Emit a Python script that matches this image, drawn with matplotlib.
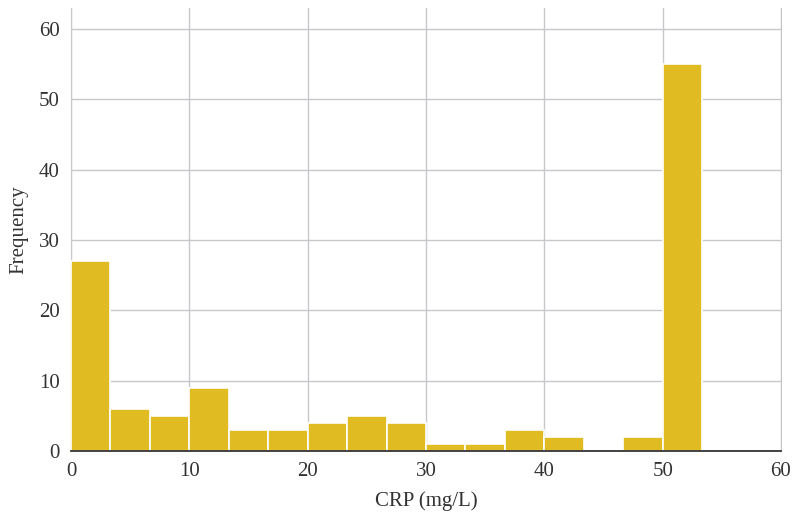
import numpy as np
import matplotlib
matplotlib.use("Agg")
import matplotlib.pyplot as plt

# CRP histogram: 16 bins of width 10/3 starting at 0
bin_width = 10 / 3
n_bins = 16
counts = [27, 6, 5, 9, 3, 3, 4, 5, 4, 1, 1, 3, 2, 0, 2, 55]
x_ticks = [0, 10, 20, 30, 40, 50, 60]
y_ticks = [0, 10, 20, 30, 40, 50, 60]

edges = np.arange(n_bins + 1) * bin_width

plt.rcParams["font.family"] = ["Liberation Serif", "DejaVu Serif"]

fig = plt.figure(figsize=(7.94, 5.15), dpi=100)
ax = fig.add_axes([0.0894, 0.1243, 0.8942, 0.8602])

ax.hist(edges[:-1], bins=edges, weights=counts, color="#E0BC22",
        edgecolor="white", linewidth=1.2, zorder=3)

ax.set_xlim(0, 60)
ax.set_ylim(0, 63)
ax.set_xticks(x_ticks)
ax.set_yticks(y_ticks)
ax.grid(True, color="#c8c8cc", linewidth=1.0, zorder=0)
ax.set_axisbelow(True)

ax.spines["top"].set_visible(False)
ax.spines["left"].set_color("#c8c8cc")
ax.spines["right"].set_color("#c8c8cc")
ax.spines["bottom"].set_color("#222222")
ax.spines["bottom"].set_linewidth(1.2)
ax.spines["bottom"].set_zorder(4)

ax.tick_params(length=0, labelsize=15, colors="#333333", pad=8)
ax.set_xlabel("CRP (mg/L)", fontsize=15, color="#333333", labelpad=7)
ax.set_ylabel("Frequency", fontsize=15, color="#333333", labelpad=8)

fig.savefig("out.png", dpi=100)
